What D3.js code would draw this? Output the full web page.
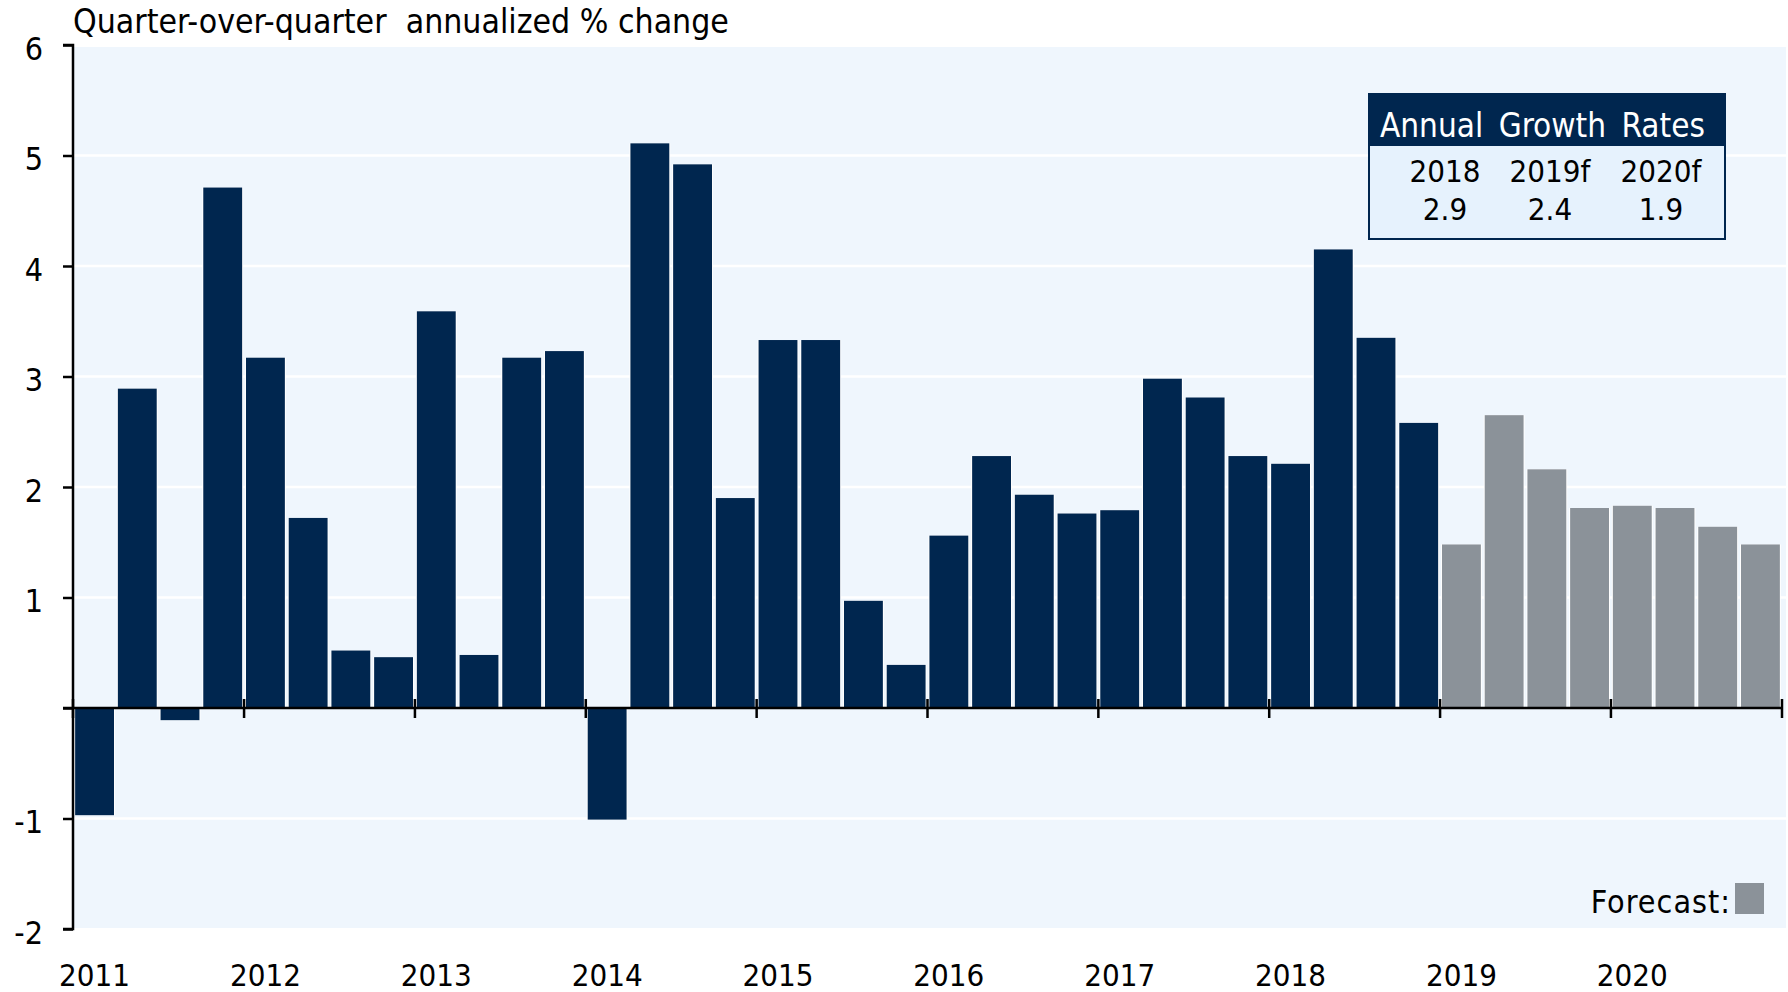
<!DOCTYPE html>
<html>
<head>
<meta charset="utf-8">
<script src="https://cdnjs.cloudflare.com/ajax/libs/d3/7.8.5/d3.min.js"></script>
<style>
  body { margin: 0; background: #fff; }
  text { font-family: "DejaVu Sans Condensed", "DejaVu Sans", sans-serif; fill: #000; }
  .grid line { stroke: #fff; stroke-width: 2.5; }
</style>
</head>
<body>
<svg id="chart" width="1788" height="992"></svg>
<script>
// data
const years = ["2011", "2012", "2013", "2014", "2015", "2016", "2017", "2018", "2019", "2020"];
const quarters = ["Q1", "Q2", "Q3", "Q4"];
const actual = [-0.97, 2.89, -0.11, 4.71, 3.17, 1.72, 0.52, 0.46, 3.59, 0.48, 3.17, 3.23,
                -1.01, 5.11, 4.92, 1.90, 3.33, 3.33, 0.97, 0.39, 1.56, 2.28, 1.93, 1.76,
                1.79, 2.98, 2.81, 2.28, 2.21, 4.15, 3.35, 2.58];
const forecast = [1.48, 2.65, 2.16, 1.81, 1.83, 1.81, 1.64, 1.48];
const yTicks = [-2, -1, 0, 1, 2, 3, 4, 5, 6];
const gridValues = [-1, 1, 2, 3, 4, 5];
const tableYears = ["2018", "2019f", "2020f"];
const tableRates = ["2.9", "2.4", "1.9"];

const navy = "#00264f";
const grey = "#8b9299";

const svg = d3.select("#chart");
const plotLeft = 73, plotRight = 1782, plotTop = 45, plotBottom = 929;

const periods = years.flatMap(yr => quarters.map(q => yr + q));
const series = actual.map(v => ({ v, f: false })).concat(forecast.map(v => ({ v, f: true })));
series.forEach((d, i) => d.p = periods[i]);

const x = d3.scaleBand().domain(periods).range([plotLeft, plotRight]).paddingInner(0.09).paddingOuter(0.05);
const y = d3.scaleLinear().domain([-2, 6]).range([plotBottom, plotTop]);

// plot background
svg.append("rect")
    .attr("x", plotLeft).attr("y", plotTop + 2)
    .attr("width", 1786 - plotLeft).attr("height", plotBottom - plotTop - 3)
    .attr("fill", "#eff6fd");

// white gridlines
svg.append("g").attr("class", "grid")
    .selectAll("line").data(gridValues).enter().append("line")
    .attr("x1", plotLeft).attr("x2", 1786)
    .attr("y1", d => y(d)).attr("y2", d => y(d));

// bars (white gap between neighbours)
svg.append("g").selectAll("rect").data(series).enter().append("rect")
    .attr("x", d => x(d.p) - 1)
    .attr("width", x.bandwidth() + 2)
    .attr("y", d => y(Math.max(0, d.v)))
    .attr("height", d => Math.abs(y(d.v) - y(0)))
    .attr("fill", "#fff");
svg.append("g").selectAll("rect").data(series).enter().append("rect")
    .attr("x", d => x(d.p))
    .attr("width", x.bandwidth())
    .attr("y", d => y(Math.max(0, d.v)))
    .attr("height", d => Math.abs(y(d.v) - y(0)))
    .attr("fill", d => d.f ? grey : navy);

// y axis (no label at zero)
const yAxis = svg.append("g")
    .attr("transform", `translate(${plotLeft},0)`)
    .call(d3.axisLeft(y).tickValues(yTicks).tickSize(10).tickPadding(20)
        .tickFormat(d => d === 0 ? "" : String(d)));
yAxis.select(".domain").attr("stroke", "#000").attr("stroke-width", 2.5).attr("d", `M-10,${plotTop}H0V${plotBottom}H-10`);
yAxis.selectAll(".tick line").attr("stroke", "#000").attr("stroke-width", 2.5);
yAxis.selectAll(".tick text")
    .attr("dy", "0.45em")
    .style("font-size", "32px")
    .style("font-family", "'DejaVu Sans Condensed', sans-serif");

// zero line and year ticks
const y0 = y(0);
svg.append("line")
    .attr("x1", plotLeft - 10).attr("x2", plotRight)
    .attr("y1", y0).attr("y2", y0)
    .attr("stroke", "#000").attr("stroke-width", 2.5);

const yearEdges = years.map(yr => x(yr + "Q1") - x.step() * x.paddingInner() / 2).concat([plotRight]);
yearEdges[0] = plotLeft;
svg.append("g").selectAll("line").data(yearEdges).enter().append("line")
    .attr("x1", d => d).attr("x2", d => d)
    .attr("y1", y0 - 9).attr("y2", y0 + 10)
    .attr("stroke", "#000").attr("stroke-width", 2.5);

svg.append("g").selectAll("text").data(years).enter().append("text")
    .attr("x", d => x(d + "Q1") + x.bandwidth() / 2)
    .attr("y", 986)
    .attr("text-anchor", "middle")
    .style("font-size", "31px")
    .text(d => d);

// title
svg.append("text")
    .attr("x", 73).attr("y", 33)
    .style("font-size", "33.5px")
    .style("white-space", "pre")
    .text("Quarter-over-quarter  annualized % change");

// annual growth table
const tbl = svg.append("g");
tbl.append("rect")
    .attr("x", 1369).attr("y", 145).attr("width", 356).attr("height", 94)
    .attr("fill", "#e6f2fd").attr("stroke", navy).attr("stroke-width", 2);
tbl.append("rect")
    .attr("x", 1368).attr("y", 93).attr("width", 358).attr("height", 52)
    .attr("fill", navy);
tbl.append("text")
    .attr("x", 1380).attr("y", 137)
    .style("font-size", "33px").style("word-spacing", "6px").style("fill", "#fff")
    .text("Annual Growth Rates");
const colX = [1445, 1550, 1661];
tbl.selectAll(".yr").data(tableYears).enter().append("text")
    .attr("x", (d, i) => colX[i]).attr("y", 182)
    .attr("text-anchor", "middle").style("font-size", "31px")
    .text(d => d);
tbl.selectAll(".rate").data(tableRates).enter().append("text")
    .attr("x", (d, i) => colX[i]).attr("y", 220)
    .attr("text-anchor", "middle").style("font-size", "31px")
    .text(d => d);

// forecast key
svg.append("text")
    .attr("x", 1731).attr("y", 913)
    .attr("text-anchor", "end")
    .style("font-size", "32px")
    .style("letter-spacing", "1px")
    .text("Forecast:");
svg.append("rect")
    .attr("x", 1735).attr("y", 883).attr("width", 29).attr("height", 31)
    .attr("fill", grey);
</script>
</body>
</html>
